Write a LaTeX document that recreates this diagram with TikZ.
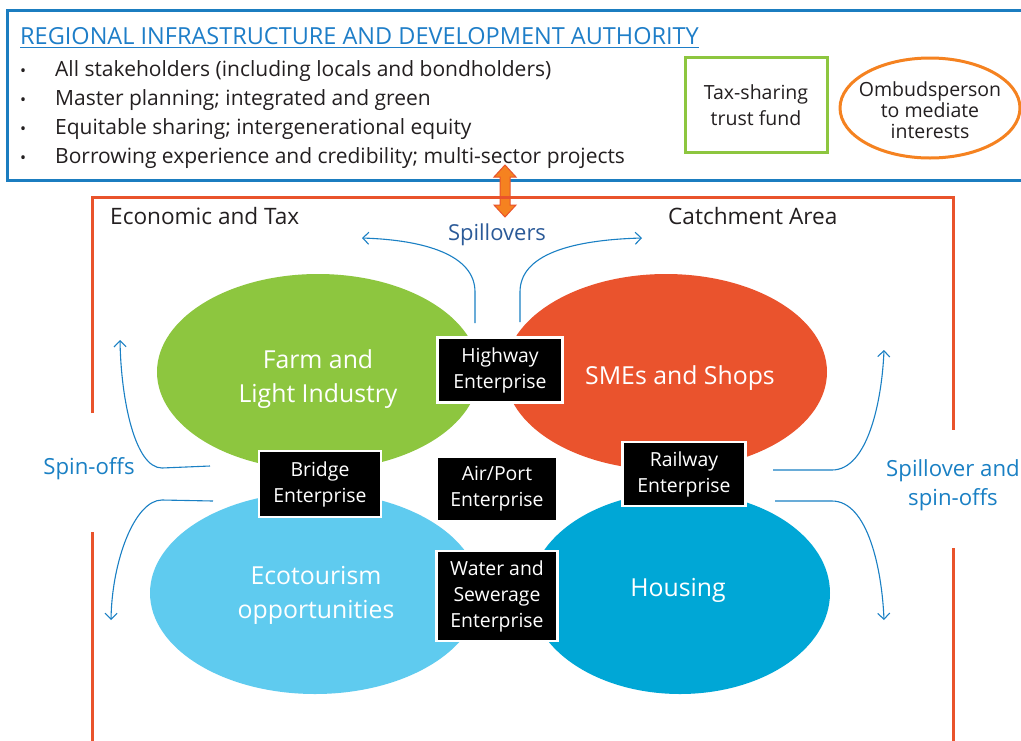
\documentclass[tikz,border=0pt]{standalone}
\usepackage{fontspec}
\setmainfont{Open Sans}
\usetikzlibrary{shapes.geometric,arrows.meta}
\definecolor{authblue}{HTML}{1B7DC0}
\definecolor{titleblue}{HTML}{1E7EC8}
\definecolor{leafgreen}{HTML}{8DC63F}
\definecolor{ombor}{HTML}{F58220}
\definecolor{framered}{HTML}{E9532B}
\definecolor{smered}{HTML}{EA532D}
\definecolor{ecoblue}{HTML}{5FCBEF}
\definecolor{houseblue}{HTML}{00A7D6}
\definecolor{navytext}{HTML}{2B5A98}
\definecolor{spinblue}{HTML}{1A80C4}
\definecolor{bodytext}{HTML}{231F20}
\tikzset{
  ebox/.style={fill=black, draw=white, line width=2.5pt, text=white, align=center, inner sep=2pt, font=\fontsize{19.4}{26}\selectfont},
  blob/.style={ellipse, inner sep=0pt},
  blobtext/.style={inner sep=0pt, text=white, align=center, font=\fontsize{24.8}{34}\selectfont},
  flow/.style={draw=spinblue, line width=1.1pt, -{Straight Barb[length=6pt,width=12pt]}},
  bullettext/.style={anchor=base west, inner sep=0pt, text=bodytext, font=\fontsize{21}{24}\selectfont},
  bulletdot/.style={anchor=base west, inner sep=0pt, text=bodytext, font=\fontsize{16}{20}\selectfont},
  plainlabel/.style={inner sep=0pt, text=bodytext, font=\fontsize{22.6}{25}\selectfont},
  spinlabel/.style={inner sep=0pt, text=spinblue, align=center, font=\fontsize{22.2}{29}\selectfont},
}
\begin{document}
\begin{tikzpicture}[x=1pt,y=-1pt]
\useasboundingbox (0,0) rectangle (1021,740);
\fill[white] (0,0) rectangle (1021,740);

% authority box
\draw[authblue, line width=3pt] (7,10) rectangle (1035,180);
\node[anchor=base west, inner sep=0pt, text=titleblue, font=\fontsize{23.5}{28}\selectfont] (title) at (20,44) {REGIONAL INFRASTRUCTURE AND DEVELOPMENT AUTHORITY};
\draw[titleblue, line width=1.3pt] ([yshift=-3.5pt]title.base west) -- ([yshift=-3.5pt]title.base east);

\foreach \yy/\tx [count=\i] in {76/All stakeholders (including locals and bondholders),
  105/Master planning; integrated and green,
  134/Equitable sharing; intergenerational equity,
  163/Borrowing experience and credibility; multi-sector projects}{
  \node[bulletdot] (dot\i) at (20,\yy) {•};
  \node[bullettext] (item\i) at (55,\yy) {\tx};
}

\node[draw=leafgreen, line width=3pt, minimum width=142pt, minimum height=95pt, align=center, text=bodytext, font=\fontsize{19.5}{26}\selectfont] (fund) at (756,105) {Tax-sharing\\trust fund};
\draw[ombor, line width=3pt] (930,108) ellipse [x radius=90, y radius=50];
\node[align=center, text=bodytext, font=\fontsize{19.5}{21}\selectfont] (ombud) at (930,110) {Ombudsperson\\to mediate\\interests};

% double arrow
\draw[framered, fill=ombor, line width=1pt, line join=miter]
  (505,165) -- (516,177) -- (510,177) -- (510,205) -- (516,205) -- (505,217)
  -- (494,205) -- (500,205) -- (500,177) -- (494,177) -- cycle;

% frame
\draw[framered, line width=3pt] (92,413) -- (92,197) -- (953,197) -- (953,430);
\draw[framered, line width=3pt] (92,532) -- (92,745);
\draw[framered, line width=3pt] (953,548) -- (953,745);
\node[plainlabel, anchor=base west] (econ) at (110,224) {Economic and Tax};
\node[plainlabel, anchor=base west] (catch) at (668,224) {Catchment Area};
\node[inner sep=0pt, text=navytext, font=\fontsize{22}{26}\selectfont] (spill) at (497,235) {Spillovers};

% ellipses
\node[blob, fill=leafgreen, minimum width=322pt, minimum height=196pt] (farm) at (318,372) {};
\node[blobtext] (farmt) at (318,379) {Farm and\\Light Industry};
\node[blob, fill=smered, minimum width=322pt, minimum height=196pt] (sme) at (666,372) {};
\node[blobtext] (smet) at (680,378) {SMEs and Shops};
\node[blob, fill=ecoblue, minimum width=330pt, minimum height=202pt] (eco) at (315,593) {};
\node[blobtext] (ecot) at (316,595) {Ecotourism\\opportunities};
\node[blob, fill=houseblue, minimum width=300pt, minimum height=202pt] (house) at (680,593) {};
\node[blobtext] (houset) at (678,590) {Housing};

% enterprises
\node[ebox, minimum width=125pt, minimum height=65pt] (hwy) at (500,370) {Highway\\Enterprise};
\node[ebox, minimum width=122pt, minimum height=66pt] (bridge) at (320,484) {Bridge\\Enterprise};
\node[ebox, draw=none, minimum width=118pt, minimum height=62pt] (air) at (497,489) {Air/Port\\Enterprise};
\node[ebox, minimum width=123pt, minimum height=64pt] (rail) at (684,474) {Railway\\Enterprise};
\node[ebox, minimum width=121pt, minimum height=90pt] (water) at (497,596) {Water and\\Sewerage\\Enterprise};

% spillover arrows (top)
\coordinate (sl0) at (475,323);
\coordinate (sl1) at (362,238);
\coordinate (sr0) at (520,322);
\coordinate (sr1) at (642,238);
\draw[flow] (sl0) -- (475,292) .. controls (475,255) and (425,240) .. (sl1);
\draw[flow] (sr0) -- (520,292) .. controls (520,255) and (570,240) .. (sr1);

% spin-offs left
\coordinate (lu0) at (210,466);
\coordinate (lu1) at (120,340);
\coordinate (ll0) at (213,501);
\coordinate (ll1) at (111,620);
\draw[flow] (lu0) -- (162,468) .. controls (135,468) and (121,400) .. (lu1);
\draw[flow] (ll0) -- (162,500) .. controls (135,500) and (112,560) .. (ll1);
\node[spinlabel] (spinl) at (89,469) {Spin-offs};

% spill-over right
\coordinate (ru0) at (773,470);
\coordinate (ru1) at (884,350);
\coordinate (rl0) at (775,501);
\coordinate (rl1) at (884,620);
\draw[flow] (ru0) -- (832,470) .. controls (868,470) and (882,400) .. (ru1);
\draw[flow] (rl0) -- (832,501) .. controls (868,501) and (882,570) .. (rl1);
\node[spinlabel] (spinr) at (953,485) {Spillover and\\spin-offs};
\end{tikzpicture}
\end{document}
